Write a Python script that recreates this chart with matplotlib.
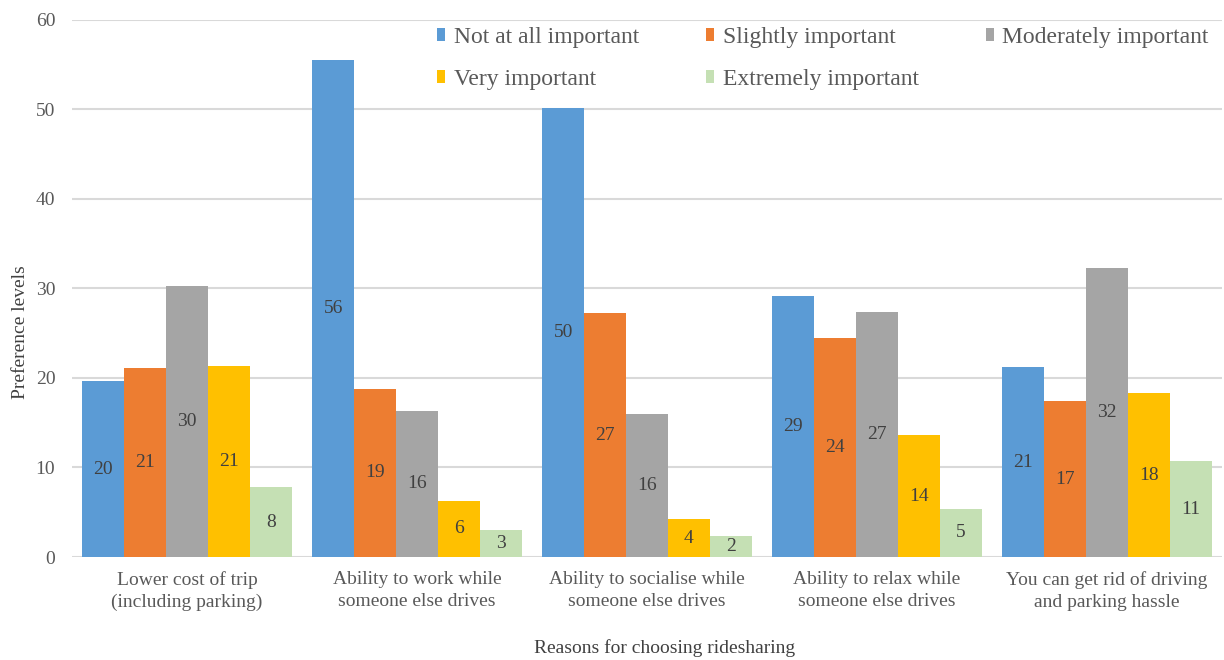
import matplotlib
matplotlib.use("Agg")
import matplotlib.pyplot as plt
import numpy as np

plt.rcParams['font.family'] = ['Liberation Serif', 'DejaVu Serif']

categories = ["Lower cost of trip\n(including parking)",
              "Ability to work while\nsomeone else drives",
              "Ability to socialise while\nsomeone else drives",
              "Ability to relax while\nsomeone else drives",
              "You can get rid of driving\nand parking hassle"]
series_names = ["Not at all important", "Slightly important", "Moderately important",
                "Very important", "Extremely important"]
not_at_all = [19.6, 55.5, 50.1, 29.1, 21.2]
slightly = [21.1, 18.8, 27.2, 24.4, 17.4]
moderately = [30.3, 16.3, 16.0, 27.4, 32.3]
very = [21.3, 6.3, 4.2, 13.6, 18.3]
extremely = [7.8, 3.0, 2.3, 5.4, 10.7]
colors = ["#5B9BD5", "#ED7D31", "#A5A5A5", "#FFC000", "#C5E0B4"]
yticks = [0, 10, 20, 30, 40, 50, 60]

series = [not_at_all, slightly, moderately, very, extremely]

fig = plt.figure(figsize=(12.24, 6.6), dpi=100)
ax = fig.add_axes([72/1224, (660-557)/660, (1222-72)/1224, (557-19.5)/660])

x = np.arange(len(categories))
bw = 1/5.5
handles = []
for i, (vals, name, c) in enumerate(zip(series, series_names, colors)):
    xs = x - 2*bw + i*bw
    bars = ax.bar(xs, vals, width=bw, color=c, label=name, zorder=3)
    handles.append(bars)
    ax.bar_label(bars, labels=[f"{v:.0f}" for v in vals], label_type='center',
                 fontsize=14, color='#404040')

ax.set_xlim(-0.5, len(categories)-0.5)
ax.set_ylim(0, 60)
ax.set_yticks(yticks)
ax.set_xticks(x)
ax.set_xticklabels(categories, fontsize=14, color='#595959', linespacing=1.4)
ax.tick_params(axis='y', labelsize=14, labelcolor='#595959', length=0, pad=12)
ax.tick_params(axis='x', length=0, pad=10)
ax.grid(axis='y', color='#D9D9D9', linewidth=1.5, zorder=0)
for s in ax.spines.values():
    s.set_visible(False)

ax.set_ylabel("Preference levels", fontsize=14, color='#404040')
ax.yaxis.set_label_coords(-43/1150, 0.419)
ax.set_xlabel("Reasons for choosing ridesharing", fontsize=14, color='#404040')
ax.xaxis.set_label_coords(0.515, -82/537.5)

order = [0, 3, 1, 4, 2]
leg = fig.legend([handles[k] for k in order], [series_names[k] for k in order],
                 loc='upper left', bbox_to_anchor=(437/1224, 1 - 27/660), ncol=3,
                 frameon=False, fontsize=17, handlelength=0.35, handleheight=0.45,
                 handletextpad=0.35, columnspacing=2.85, borderpad=0, borderaxespad=0,
                 labelspacing=0.88)
for t in leg.get_texts():
    t.set_color('#595959')

fig.savefig("out.png", dpi=100)
